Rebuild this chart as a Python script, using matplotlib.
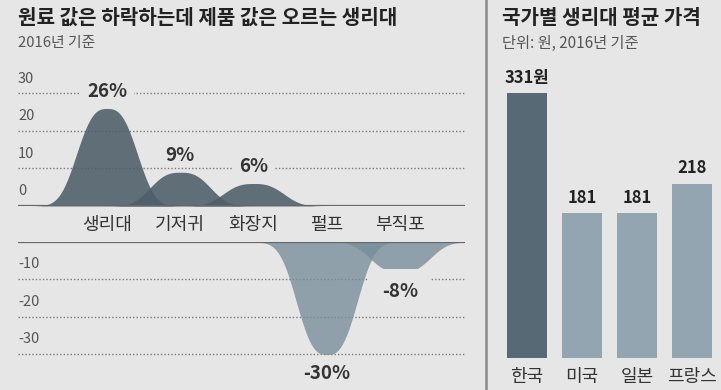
import numpy as np
import matplotlib
matplotlib.use('Agg')
import matplotlib.pyplot as plt

plt.rcParams['font.family'] = ['Noto Sans CJK KR', 'DejaVu Sans']

# 원료/제품 가격 변동률 (%)
items = ['생리대', '기저귀', '화장지', '펄프', '부직포']
changes = [26, 9, 6, -30, -8]

# 국가별 생리대 평균 가격 (원)
countries = ['한국', '미국', '일본', '프랑스']
prices = [331, 181, 181, 218]
price_labels = ['331원', '181', '181', '218']

BG = '#e6e6e6'
W, H = 721, 390


def px_axes(fig, x0, y0, x1, y1):
    # 픽셀 좌표(왼쪽 위 기준)로 axes 만들기
    return fig.add_axes([x0 / W, 1 - y1 / H, (x1 - x0) / W, (y1 - y0) / H])


def bump(x, c, v, s=0.49, p=2.8):
    return v * np.exp(-(np.abs(x - c) / s) ** p)


fig = plt.figure(figsize=(W / 100, H / 100), dpi=100, facecolor=BG)

# 왼쪽 패널: 위(증가) / 아래(감소)
ax_up = px_axes(fig, 18, 60, 465, 206)
ax_dn = px_axes(fig, 18, 242, 465, 390)
xlim = (-1.215, 4.887)
xs = np.linspace(xlim[0], xlim[1], 800)

for ax in (ax_up, ax_dn):
    ax.set_xlim(xlim)
    ax.set_facecolor('none')
    ax.axis('off')
ax_up.set_ylim(0, 38.93)
ax_dn.set_ylim(-39.47, 0)

for v in (10, 20, 30):
    ax_up.axhline(v, color='#7a7a7a', lw=1, ls=(0, (1, 1.5)), zorder=1)
    ax_dn.axhline(-v, color='#7a7a7a', lw=1, ls=(0, (1, 1.5)), zorder=1)
ax_up.axhline(0, color='#666666', lw=1.6, zorder=4)
ax_dn.axhline(0, color='#666666', lw=1.6, zorder=4)

for v in (0, 10, 20, 30):
    ax_up.text(0, v + 3.9, str(v), transform=ax_up.get_yaxis_transform(),
               ha='left', va='center', fontsize=10.5, color='#555555')
for v in (-10, -20, -30):
    ax_dn.text(0, v + 4.0, str(v), transform=ax_dn.get_yaxis_transform(),
               ha='left', va='center', fontsize=10.5, color='#555555')

label_pads = [0.35, 0.1, 0.35, 0.1, 0.7]
for i, (name, v) in enumerate(zip(items, changes)):
    if v >= 0:
        ax = ax_up
        ax.fill_between(xs, 0, bump(xs, i, v), color='#4e5f6a', alpha=0.89,
                        lw=0, zorder=2)
        off = 12
    else:
        ax = ax_dn
        ax.fill_between(xs, 0, bump(xs, i, v), color='#788e9c', alpha=0.79,
                        lw=0, zorder=2)
        off = -14
    ax.annotate(f'{v}%', (i, v), xytext=(0, off), textcoords='offset points',
                ha='center', va='center', fontsize=13.5, fontweight='bold',
                color='#333333', zorder=5,
                bbox=dict(boxstyle=f'square,pad={label_pads[i]}', fc=BG, ec='none'))
    ax_up.annotate(name, (i, 0), xytext=(0, -13.5), textcoords='offset points',
                   ha='center', va='center', fontsize=13, color='#333333')

fig.text(18 / W, 1 - 17 / H, '원료 값은 하락하는데 제품 값은 오르는 생리대',
         ha='left', va='center', fontsize=14.5, fontweight='bold', color='#222222')
fig.text(18 / W, 1 - 43 / H, '2016년 기준', ha='left', va='center',
         fontsize=10.7, color='#555555')

# 구분선
fig.add_artist(plt.Line2D([486 / W, 486 / W], [0, 1], color='#8a8a8a', lw=1.8))

# 오른쪽 패널: 막대
ax_bar = px_axes(fig, 486, 60, 721, 358)
ax_bar.set_facecolor('none')
ax_bar.axis('off')
ax_bar.set_xlim(-0.745, 3.527)
ax_bar.set_ylim(0, 372.5)
bar_colors = ['#566974'] + ['#93a5b0'] * 3
xpos = np.arange(len(countries))
ax_bar.bar(xpos, prices, width=0.73, color=bar_colors)
for i, (v, lab, name) in enumerate(zip(prices, price_labels, countries)):
    ax_bar.annotate(lab, (i, v), xytext=(0, 11), textcoords='offset points',
                    ha='center', va='center', fontsize=12, fontweight='bold',
                    color='#222222')
    ax_bar.annotate(name, (i, 0), xytext=(0, -14), textcoords='offset points',
                    ha='center', va='center', fontsize=13, color='#333333',
                    annotation_clip=False)

fig.text(502 / W, 1 - 17 / H, '국가별 생리대 평균 가격', ha='left', va='center',
         fontsize=14.5, fontweight='bold', color='#222222')
fig.text(502 / W, 1 - 43 / H, '단위: 원, 2016년 기준', ha='left', va='center',
         fontsize=11, color='#555555')

fig.savefig('out.png', dpi=100, facecolor=BG)
